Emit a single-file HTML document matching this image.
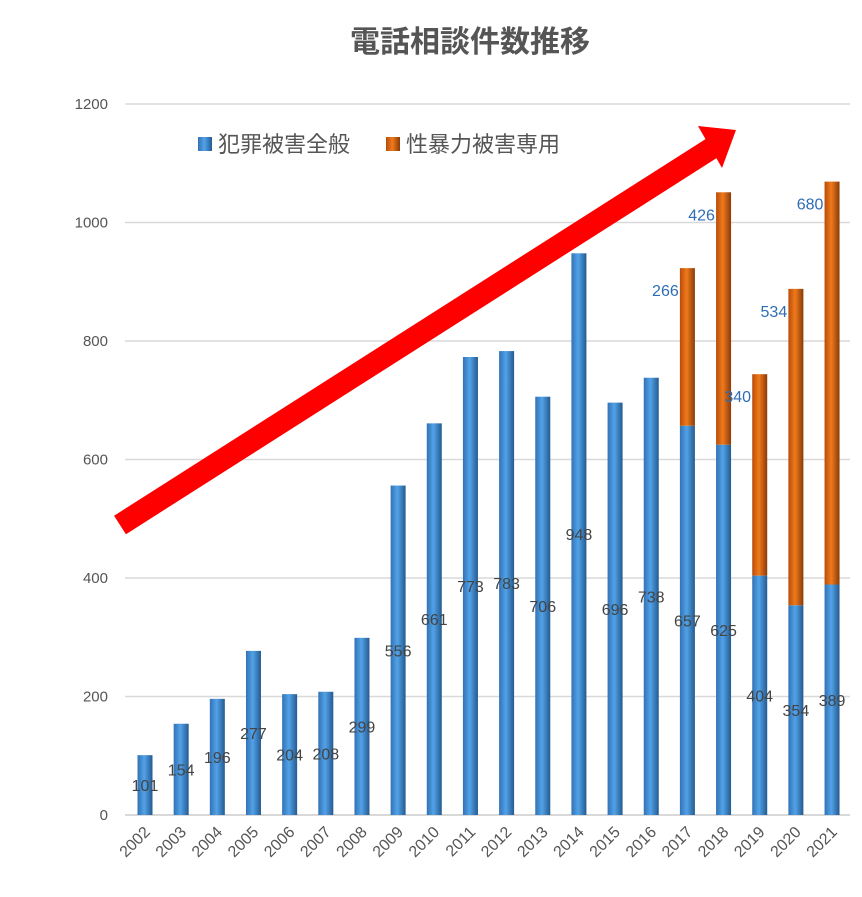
<!DOCTYPE html>
<html><head><meta charset="utf-8"><style>
body{margin:0;background:#fff}
svg{display:block;font-family:"Liberation Sans","Noto Sans CJK JP",sans-serif}
</style></head><body>
<svg id="chart" width="862" height="897" viewBox="0 0 862 897">
<defs>
<linearGradient id="gb" x1="0" x2="1"><stop offset="0" stop-color="#3272b4"/><stop offset="0.45" stop-color="#52a2e8"/><stop offset="1" stop-color="#245a90"/></linearGradient>
<linearGradient id="go" x1="0" x2="1"><stop offset="0" stop-color="#b84d0a"/><stop offset="0.45" stop-color="#f07a1c"/><stop offset="1" stop-color="#8a3a08"/></linearGradient>
</defs>
<text x="470" y="52" text-anchor="middle" font-size="30" font-weight="bold" fill="#555">電話相談件数推移</text>
<g id="grid"></g><g id="bars"></g><g id="labels"></g>
<g>
<rect x="198" y="137" width="14" height="14" fill="url(#gb)"/>
<text x="218" y="152" font-size="22" fill="#555">犯罪被害全般</text>
<rect x="386" y="137" width="14" height="14" fill="url(#go)"/>
<text x="406" y="152" font-size="22" fill="#555">性暴力被害専用</text>
</g>
<g>
<line x1="120" y1="525" x2="712" y2="148" stroke="#f00" stroke-width="22"/>
<polygon points="736,130 698,126 722,168" fill="#f00"/>
</g>
</svg>
<script>
const years=["2002","2003","2004","2005","2006","2007","2008","2009","2010","2011","2012","2013","2014","2015","2016","2017","2018","2019","2020","2021"];
const general=[101,154,196,277,204,208,299,556,661,773,783,706,948,696,738,657,625,404,354,389];
const sexual=[0,0,0,0,0,0,0,0,0,0,0,0,0,0,0,266,426,340,534,680];
const yTicks=[0,200,400,600,800,1000,1200];
const NS="http://www.w3.org/2000/svg";
const y=v=>815-v*(711/1200);
const x=i=>145+i*36.16;
function mk(t,a,p){const e=document.createElementNS(NS,t);for(const k in a)e.setAttribute(k,a[k]);p.appendChild(e);return e;}
const grid=document.getElementById('grid'),bars=document.getElementById('bars'),labels=document.getElementById('labels');
yTicks.forEach(v=>{
 const l=mk('line',{x1:125,x2:850,y1:y(v),y2:y(v),stroke:'#d9d9d9','stroke-width':v===0?2:1.5},grid);
 
 
 const t=mk('text',{x:108,y:y(v)+5,'text-anchor':'end','font-size':15,fill:'#555'},grid);
 t.textContent=v;
 
 
});
years.forEach((yr,i)=>{
 const cx=x(i),w=15;
 const b=mk('rect',{x:cx-w/2,y:y(general[i]),width:w,height:y(0)-y(general[i]),fill:'url(#gb)'},bars);
 
 
 const lt=mk('text',{x:cx,y:y(general[i]/2)+6,'text-anchor':'middle','font-size':16,fill:'#444'},labels);
 lt.textContent=general[i];
 
 
 if(sexual[i]>0){
  const top=general[i]+sexual[i];
  const o=mk('rect',{x:cx-w/2,y:y(top),width:w,height:y(general[i])-y(top),fill:'url(#go)'},bars);
  
  
  const st=mk('text',{x:cx-22,y:y(top)+28,'text-anchor':'middle','font-size':16,fill:'#2e6db4'},labels);
  st.textContent=sexual[i];
  
  
 }
 const xt=mk('text',{x:cx+6,y:833,'text-anchor':'end','font-size':16,fill:'#555',transform:`rotate(-45 ${cx+6} 833)`},grid);
 xt.textContent=yr;
 
 
});
</script>
</body></html>
